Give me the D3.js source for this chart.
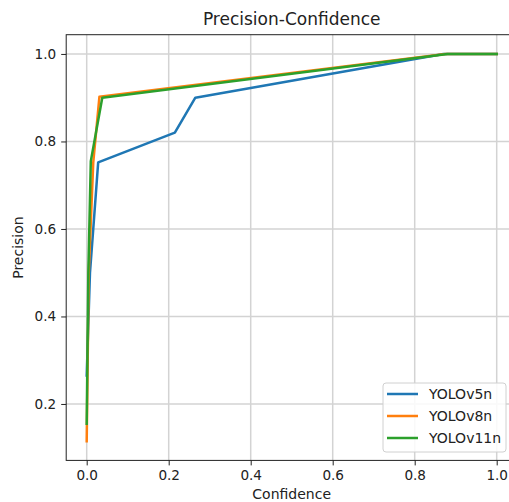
<!DOCTYPE html>
<html>
<head>
<meta charset="utf-8">
<script src="https://cdn.jsdelivr.net/npm/d3@7"></script>
<style>
  body { margin: 0; background: #fff; }
  text { font-family: "DejaVu Sans", sans-serif; fill: #222; }
</style>
</head>
<body>
<div id="chart"></div>
<script>
// Data
var seriesNames = ["YOLOv5n", "YOLOv8n", "YOLOv11n"];
var colors = ["#1f77b4", "#ff7f0e", "#2ca02c"];

var v5Conf = [0.0, 0.008, 0.016, 0.028, 0.215, 0.265, 0.87, 1.0];
var v5Prec = [0.265, 0.50, 0.60, 0.752, 0.82, 0.90, 1.0, 1.0];

var v8Conf = [0.0, 0.005, 0.016, 0.031, 0.875, 1.0];
var v8Prec = [0.115, 0.50, 0.752, 0.902, 1.0, 1.0];

var v11Conf = [0.0, 0.004, 0.010, 0.038, 0.88, 1.0];
var v11Prec = [0.155, 0.50, 0.755, 0.900, 1.0, 1.0];

var xTicks = [0.0, 0.2, 0.4, 0.6, 0.8, 1.0];
var yTicks = [0.2, 0.4, 0.6, 0.8, 1.0];

var svgWidth = 509;
var svgHeight = 502;

var margin = { top: 34.7, left: 66.2 };
var width = 451;
var height = 425.7;

var svg = d3.select("#chart")
  .append("svg")
  .attr("width", svgWidth)
  .attr("height", svgHeight);

var chartGroup = svg.append("g")
  .attr("transform", `translate(${margin.left}, ${margin.top})`);

var xScale = d3.scaleLinear().domain([-0.05, 1.05]).range([0, width]);
var yScale = d3.scaleLinear().domain([0.071, 1.044]).range([height, 0]);

// Grid
chartGroup.append("g")
  .selectAll("line")
  .data(xTicks)
  .enter()
  .append("line")
  .attr("x1", d => xScale(d)).attr("x2", d => xScale(d))
  .attr("y1", 0).attr("y2", height)
  .attr("stroke", "#d3d3d3").attr("stroke-width", 1.5);

chartGroup.append("g")
  .selectAll("line")
  .data(yTicks)
  .enter()
  .append("line")
  .attr("y1", d => yScale(d)).attr("y2", d => yScale(d))
  .attr("x1", 0).attr("x2", width)
  .attr("stroke", "#d3d3d3").attr("stroke-width", 1.5);

// Lines
var series = [
  { conf: v5Conf, prec: v5Prec },
  { conf: v8Conf, prec: v8Prec },
  { conf: v11Conf, prec: v11Prec }
];

var line = d3.line()
  .x(d => xScale(d[0]))
  .y(d => yScale(d[1]));

series.forEach(function(s, i) {
  chartGroup.append("path")
    .datum(d3.zip(s.conf, s.prec))
    .attr("d", line)
    .attr("fill", "none")
    .attr("stroke", colors[i])
    .attr("stroke-width", 2.5)
    .attr("stroke-linejoin", "round")
    .attr("stroke-linecap", "square");
});

// Axes
var bottomAxis = d3.axisBottom(xScale).tickValues(xTicks).tickFormat(d3.format(".1f")).tickSizeOuter(0).tickSize(5).tickPadding(5);
var leftAxis = d3.axisLeft(yScale).tickValues(yTicks).tickFormat(d3.format(".1f")).tickSizeOuter(0).tickSize(5).tickPadding(5);

var xAxisG = chartGroup.append("g").attr("transform", `translate(0, ${height})`).call(bottomAxis);
var yAxisG = chartGroup.append("g").call(leftAxis);
[xAxisG, yAxisG].forEach(function(g) {
  g.select(".domain").remove();
  g.selectAll("text").attr("font-size", 13.6).attr("font-family", "DejaVu Sans").attr("fill", "#222");
  g.selectAll("line").attr("stroke", "#222");
});

// Frame
chartGroup.append("rect")
  .attr("width", width).attr("height", height)
  .attr("fill", "none").attr("stroke", "#222").attr("stroke-width", 1);

// Labels
svg.append("text")
  .attr("x", margin.left + width / 2).attr("y", 25)
  .attr("text-anchor", "middle").attr("font-size", 17)
  .text("Precision-Confidence");

svg.append("text")
  .attr("x", margin.left + width / 2).attr("y", 499)
  .attr("text-anchor", "middle").attr("font-size", 14)
  .text("Confidence");

svg.append("text")
  .attr("transform", `translate(23, ${margin.top + height / 2}) rotate(-90)`)
  .attr("text-anchor", "middle").attr("font-size", 14)
  .text("Precision");

// Legend
var legend = svg.append("g").attr("transform", "translate(383, 383)");
legend.append("rect")
  .attr("width", 123).attr("height", 69).attr("rx", 3)
  .attr("fill", "#fff").attr("fill-opacity", 0.85)
  .attr("stroke", "#d0d0d0");

seriesNames.forEach(function(name, i) {
  var yy = 11 + i * 22;
  legend.append("line")
    .attr("x1", 4).attr("x2", 35).attr("y1", yy).attr("y2", yy)
    .attr("stroke", colors[i]).attr("stroke-width", 2.5);
  legend.append("text")
    .attr("x", 46).attr("y", yy + 5)
    .attr("font-size", 14)
    .text(name);
});
</script>
</body>
</html>
